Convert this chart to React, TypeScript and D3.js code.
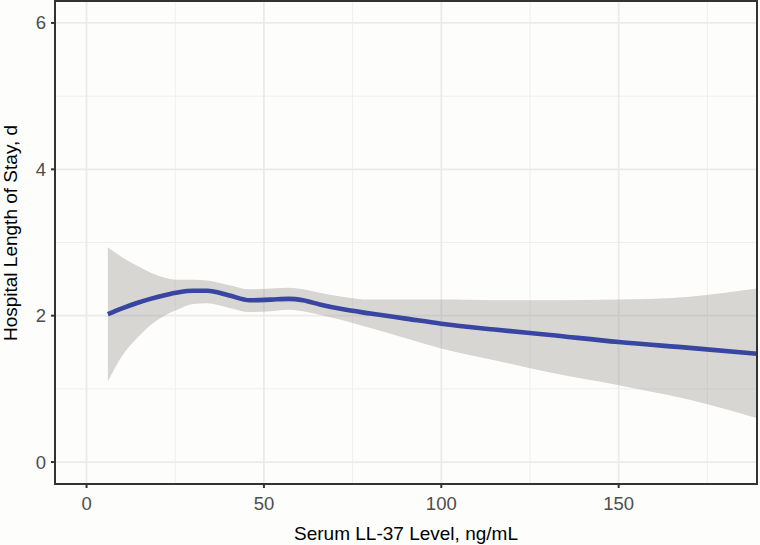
import React from "react";
import * as d3 from "d3";

const xs = [6, 10, 14, 18, 22, 26, 30, 34, 40, 46, 52, 57, 61, 66, 72, 80, 90, 100, 115, 130, 150, 170, 189];
const fit = [2.02, 2.10, 2.17, 2.23, 2.28, 2.32, 2.34, 2.34, 2.28, 2.21, 2.22, 2.23, 2.21, 2.15, 2.09, 2.03, 1.96, 1.89, 1.81, 1.74, 1.64, 1.56, 1.48];
const upper = [2.93, 2.80, 2.69, 2.59, 2.52, 2.49, 2.49, 2.48, 2.42, 2.36, 2.37, 2.38, 2.36, 2.31, 2.26, 2.22, 2.22, 2.22, 2.21, 2.21, 2.22, 2.26, 2.37];
const lower = [1.10, 1.45, 1.68, 1.87, 2.00, 2.09, 2.16, 2.17, 2.11, 2.05, 2.06, 2.08, 2.06, 2.01, 1.94, 1.83, 1.69, 1.55, 1.39, 1.23, 1.05, 0.85, 0.60];

const xMajor = [0, 50, 100, 150];
const xMinor = [25, 75, 125, 175];
const yMajor = [0, 2, 4, 6];
const yMinor = [1, 3, 5];

const xTitle = "Serum LL-37 Level, ng/mL";
const yTitle = "Hospital Length of Stay, d";

const W = 760, H = 545;
const L = 55, R = 757, T = 1, B = 484;

export default function App() {
  const x = d3.scaleLinear().domain([-8.9, 189]).range([L, R]);
  const y = d3.scaleLinear().domain([-0.3, 6.3]).range([B, T]);
  const pts = xs.map((v, i) => ({ x: v, f: fit[i], u: upper[i], l: lower[i] }));
  const curve = d3.curveMonotoneX;
  const area = d3.area<any>().x(d => x(d.x)).y0(d => y(d.l)).y1(d => y(d.u)).curve(curve);
  const line = d3.line<any>().x(d => x(d.x)).y(d => y(d.f)).curve(curve);
  const font = "'Liberation Sans', Arial, Helvetica, sans-serif";
  return (
    <svg width={W} height={H} style={{ position: "absolute", left: 0, top: 0 }} fontFamily={font}>
      <rect x={0} y={0} width={W} height={H} fill="#FDFDFB" />
      <defs>
        <clipPath id="panel">
          <rect x={L} y={T} width={R - L} height={B - T} />
        </clipPath>
      </defs>
      <g stroke="#EFEFEE" strokeWidth={1}>
        {xMinor.map(v => <line key={"xm" + v} x1={x(v)} x2={x(v)} y1={T} y2={B} />)}
        {yMinor.map(v => <line key={"ym" + v} x1={L} x2={R} y1={y(v)} y2={y(v)} />)}
      </g>
      <g stroke="#EBEBEA" strokeWidth={1.8}>
        {xMajor.map(v => <line key={"xM" + v} x1={x(v)} x2={x(v)} y1={T} y2={B} />)}
        {yMajor.map(v => <line key={"yM" + v} x1={L} x2={R} y1={y(v)} y2={y(v)} />)}
      </g>
      <g clipPath="url(#panel)">
        <path d={area(pts) || ""} fill="#9A9694" fillOpacity={0.38} />
        <path d={line(pts) || ""} fill="none" stroke="#3845A1" strokeWidth={4.6} />
      </g>
      <rect x={L} y={T} width={R - L} height={B - T} fill="none" stroke="#333333" strokeWidth={2} />
      <g stroke="#333333" strokeWidth={2}>
        {xMajor.map(v => <line key={"xt" + v} x1={x(v)} x2={x(v)} y1={B} y2={B + 4} />)}
        {yMajor.map(v => <line key={"yt" + v} x1={L - 4} x2={L} y1={y(v)} y2={y(v)} />)}
      </g>
      <g fill="#4D4D4D" fontSize={18.5}>
        {xMajor.map(v => (
          <text key={"xl" + v} x={x(v)} y={509.5} textAnchor="middle">{v}</text>
        ))}
        {yMajor.map(v => (
          <text key={"yl" + v} x={46} y={y(v) + 6.5} textAnchor="end">{v}</text>
        ))}
      </g>
      <text x={(L + R) / 2} y={540} textAnchor="middle" fontSize={19} fill="#000">{xTitle}</text>
      <text transform={`translate(17,233) rotate(-90)`} textAnchor="middle" fontSize={19} fill="#000">{yTitle}</text>
    </svg>
  );
}
